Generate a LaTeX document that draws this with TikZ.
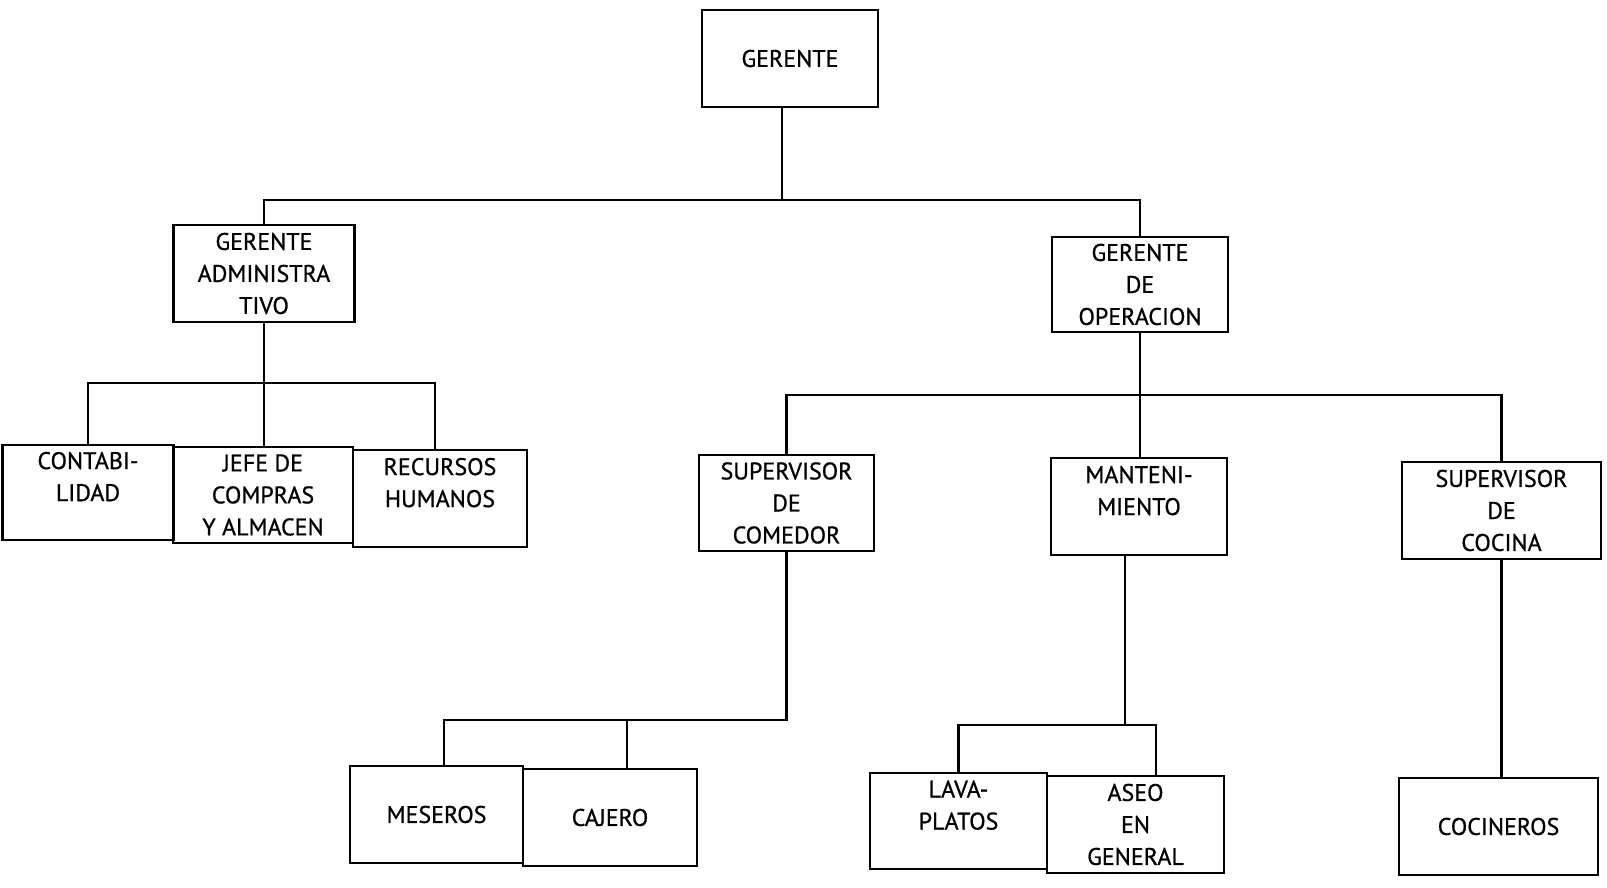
\documentclass[tikz,border=0pt]{standalone}
\usepackage{fontspec}
\setmainfont{PT Sans}[FakeBold=0.8]
\begin{document}
\begin{tikzpicture}[x=1pt,y=-1pt,
  box/.style={draw,line width=2.4pt,inner sep=0pt,align=center,
    font=\fontsize{24}{32}\selectfont},
  conn/.style={line width=2.2pt}]
\useasboundingbox[fill=white] (0,0) rectangle (1607,888);
% boxes
\node[box,minimum width=176pt,minimum height=97pt] (ger) at (790,58.5) {GERENTE};
\node[box,minimum width=181pt,minimum height=97pt] (ga) at (264,273.5) {GERENTE\\ADMINISTRA\\TIVO};
\node[box,minimum width=176pt,minimum height=95pt] (go) at (1140,284.5) {GERENTE\\DE\\OPERACION};
\node[box,minimum width=171pt,minimum height=95pt] (cont) at (88,492.5) {CONTABI-\\LIDAD\\\mbox{}};
\node[box,minimum width=180pt,minimum height=96pt] (jefe) at (263,495) {JEFE DE\\COMPRAS\\Y ALMACEN};
\node[box,minimum width=174pt,minimum height=97pt] (rec) at (440,498.5) {RECURSOS\\HUMANOS\\\mbox{}};
\node[box,minimum width=175pt,minimum height=96pt] (sc) at (786.5,503) {SUPERVISOR\\DE\\COMEDOR};
\node[box,minimum width=176pt,minimum height=97pt] (mant) at (1139,506.5) {MANTENI-\\MIENTO\\\mbox{}};
\node[box,minimum width=199pt,minimum height=97pt] (sk) at (1501.5,510.5) {SUPERVISOR\\DE\\COCINA};
\node[box,minimum width=173pt,minimum height=97pt] (mes) at (436.5,814.5) {MESEROS};
\node[box,minimum width=174pt,minimum height=97pt] (caj) at (610,817.5) {CAJERO};
\node[box,minimum width=177pt,minimum height=96pt] (lava) at (958.5,821) {LAVA-\\PLATOS\\\mbox{}};
\node[box,minimum width=177pt,minimum height=97pt] (aseo) at (1135.5,824.5) {ASEO\\EN\\GENERAL};
\node[box,minimum width=199pt,minimum height=97pt] (coc) at (1498.5,826.5) {COCINEROS};
% junctions
\coordinate (j1) at (782,200);
\coordinate (j2) at (264,383);
\coordinate (j3) at (1139,395);
\coordinate (j4) at (786.5,720);
\coordinate (c1) at (627,720);
\coordinate (j5) at (1125,725);
% connectors
\draw[conn] ([xshift=-8pt]ger.south) -- (j1);
\draw[conn] (ga.north) |- (j1) -| (go.north);
\draw[conn] (ga.south) -- (ga.south |- jefe.north);
\draw[conn] (cont.north) |- (j2) -| ([xshift=-5pt]rec.north);
\draw[conn] (go.south) -- (go.south |- mant.north);
\draw[conn] (sc.north) |- (j3) -| (sk.north);
\draw[conn] (sc.south) -- (j4) -| ([xshift=7.5pt]mes.north);
\draw[conn] (c1) -- (c1 |- caj.north);
\draw[conn] ([xshift=-14pt]mant.south) -- (j5);
\draw[conn] (lava.north) |- (j5) -| ([xshift=20.5pt]aseo.north);
\draw[conn] (sk.south) -- (sk.south |- coc.north);
\end{tikzpicture}
\end{document}
